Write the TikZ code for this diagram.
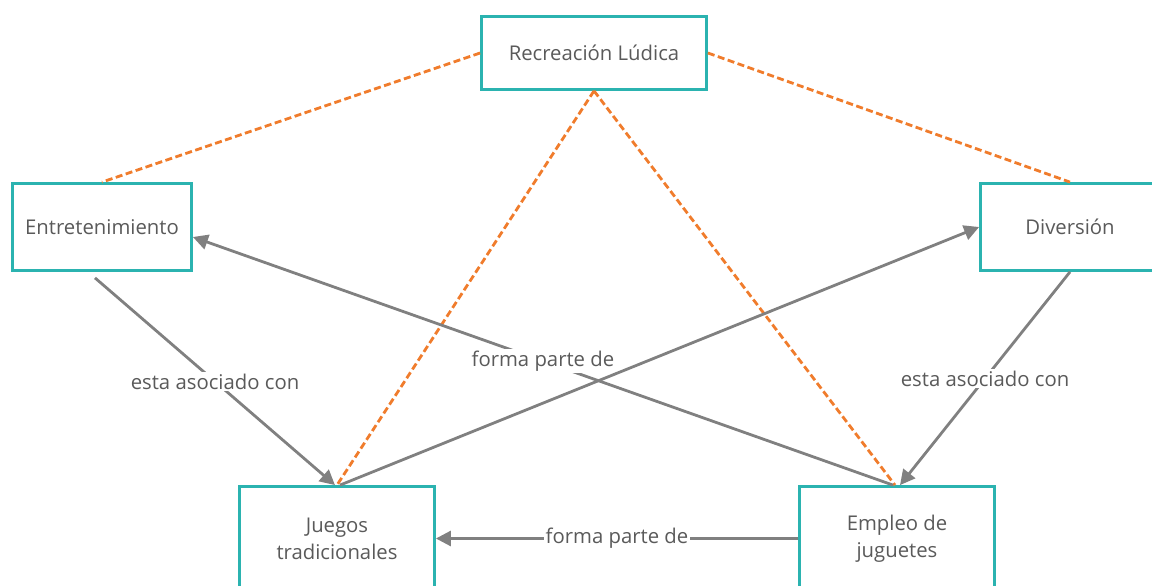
\documentclass[tikz,border=0pt]{standalone}
\usepackage{fontspec}
\setmainfont{Open Sans}
\usetikzlibrary{arrows.meta}
\definecolor{verdeazul}{HTML}{2BB3B0}
\definecolor{naranja}{HTML}{F07C2C}
\definecolor{grisflecha}{HTML}{808080}
\definecolor{gristexto}{HTML}{5A5A5A}

\begin{document}
\begin{tikzpicture}[x=1pt,y=-1pt,
		caja/.style={draw=verdeazul,line width=2.8pt,fill=white,text=gristexto,align=center,inner sep=0pt,font=\fontsize{20.3}{27}\selectfont},
		enlace/.style={draw=naranja,line width=2.8pt,dash pattern=on 7pt off 3.5pt},
		flecha/.style={draw=grisflecha,line width=2.8pt,-{Triangle[length=15pt,width=15pt]}},
		etiqueta/.style={fill=white,text=gristexto,inner sep=2pt,font=\fontsize{20.3}{27}\selectfont}]
	\useasboundingbox (0,0) rectangle (1152,586);

	\node[caja,minimum width=225pt,minimum height=73pt] (rec) at (594,53) {Recreación Lúdica};
	\node[caja,minimum width=179pt,minimum height=87pt] (ent) at (102,227) {Entretenimiento};
	\node[caja,minimum width=179pt,minimum height=87pt] (div) at (1070,227) {Diversión};
	\node[caja,minimum width=195pt,minimum height=104pt] (jue) at (337,538.5) {Juegos\\tradicionales};
	\node[caja,minimum width=195pt,minimum height=104pt] (emp) at (897,538.5) {Empleo de\\juguetes};

	\draw[enlace] (rec.west) -- (ent.north);
	\draw[enlace] (rec.east) -- (div.north);
	\draw[enlace] (rec.south) -- (jue.north);
	\draw[enlace] (rec.south) -- ([xshift=-2pt]emp.north);

	\draw[flecha] ([xshift=-7pt,yshift=-6pt]ent.south) -- node[etiqueta] {esta asociado con} ([xshift=-2pt]jue.north);
	\draw[flecha] (div.south) -- node[etiqueta] {esta asociado con} ([xshift=3pt]emp.north);
	\draw[flecha] ([xshift=-4pt]emp.north) -- node[etiqueta] {forma parte de} ([yshift=-10pt]ent.east);
	\draw[flecha] ([xshift=3pt]jue.north) -- (div.west);
	\draw[flecha] (emp.west) -- node[etiqueta] {forma parte de} (jue.east);
\end{tikzpicture}
\end{document}
